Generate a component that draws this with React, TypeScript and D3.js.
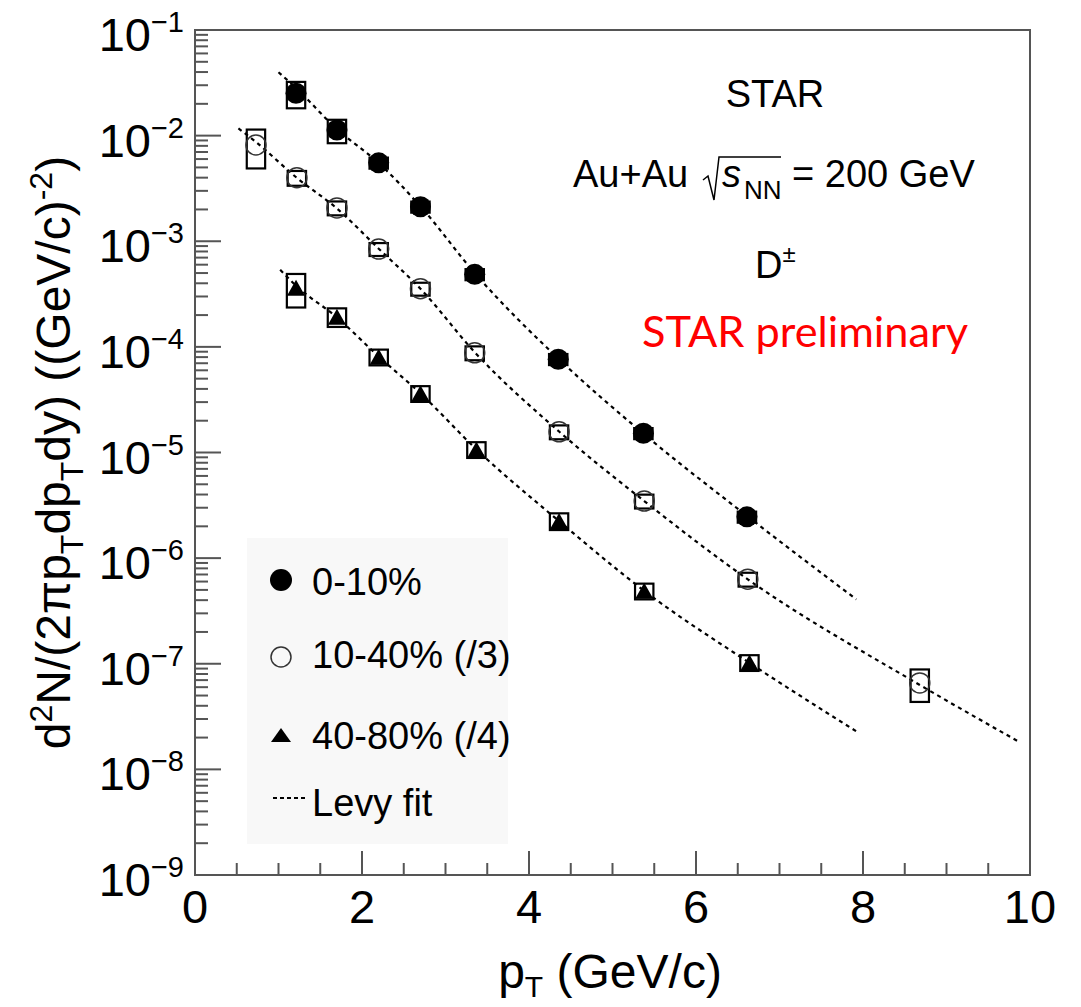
import React from 'react';
import * as d3 from 'd3';

// ---- data ----
const ptCentral = [1.21, 1.70, 2.20, 2.70, 3.35, 4.35, 5.37, 6.61];
const yieldCentral = [2.52e-2, 1.13e-2, 5.53e-3, 2.12e-3, 4.86e-4, 7.64e-5, 1.52e-5, 2.46e-6];
const sysCentral = [0.28, 0.25, 0.12, 0.12, 0.12, 0.12, 0.12, 0.12];

const ptMid = [0.73, 1.22, 1.70, 2.20, 2.70, 3.35, 4.36, 5.38, 6.62, 8.68];
const yieldMid = [8.15e-3, 3.99e-3, 2.07e-3, 8.43e-4, 3.55e-4, 8.79e-5, 1.57e-5, 3.47e-6, 6.32e-7, 6.59e-8];
const sysMid = [0.40, 0.16, 0.15, 0.14, 0.14, 0.15, 0.15, 0.15, 0.15, 0.34];

const ptPeri = [1.21, 1.70, 2.20, 2.70, 3.37, 4.36, 5.38, 6.64];
const yieldPeri = [3.63e-4, 1.93e-4, 8.05e-5, 3.63e-5, 1.07e-5, 2.25e-6, 4.90e-7, 1.03e-7];
const sysPeri = [0.35, 0.20, 0.17, 0.17, 0.17, 0.18, 0.17, 0.17];

const fitCentralX = [1.0, 1.21, 1.70, 2.20, 2.70, 3.35, 4.35, 5.37, 6.61, 7.92];
const fitCentralY = [3.98e-2, 2.82e-2, 1.15e-2, 5.5e-3, 2.14e-3, 5.0e-4, 7.76e-5, 1.51e-5, 2.51e-6, 4.07e-7];

const fitMidX = [0.52, 0.73, 1.22, 1.70, 2.20, 2.70, 3.35, 4.36, 5.38, 6.62, 8.68, 9.87];
const fitMidY = [1.17e-2, 8.7e-3, 3.98e-3, 2.04e-3, 8.5e-4, 3.55e-4, 8.9e-5, 1.58e-5, 3.47e-6, 6.3e-7, 6.3e-8, 1.82e-8];

const fitPeriX = [1.02, 1.21, 1.70, 2.20, 2.70, 3.37, 4.36, 5.38, 6.64, 7.92];
const fitPeriY = [5.37e-4, 3.8e-4, 1.9e-4, 8.1e-5, 3.63e-5, 1.07e-5, 2.24e-6, 4.9e-7, 1.02e-7, 2.29e-8];

const xMajorTicks = [0, 2, 4, 6, 8, 10];
const yDecades = [-9, -8, -7, -6, -5, -4, -3, -2, -1];

const legendLabels = ['0-10%', '10-40% (/3)', '40-80% (/4)', 'Levy fit'];

const FONT = "'Liberation Sans', Arial, Helvetica, sans-serif";

export default function App() {
  const W = 1081, H = 1007;
  const left = 195, right = 1030, top = 30, bottom = 875;
  const x = d3.scaleLinear().domain([0, 10]).range([left, right]);
  const y = d3.scaleLog().domain([1e-9, 1e-1]).range([bottom, top]);

  const boxHalfW = 0.11;
  const axisColor = '#555';

  const xMinor = d3.range(0, 10.001, 0.5).filter((v) => Math.abs(v / 2 - Math.round(v / 2)) > 1e-6);
  const yMinor: number[] = [];
  for (let e = -9; e < -1; e++) for (let k = 2; k <= 9; k++) yMinor.push(k * Math.pow(10, e));

  const line = (xs: number[], ys: number[]) =>
    d3.line<number>().x((_, i) => x(xs[i])).y((_, i) => y(ys[i])).curve(d3.curveMonotoneX)(xs) || '';

  const sysBox = (px: number, py: number, s: number, key: string) => (
    <rect key={key} x={x(px - boxHalfW)} y={y(py * (1 + s))} width={x(px + boxHalfW) - x(px - boxHalfW)}
      height={y(py * (1 - s)) - y(py * (1 + s))} fill="none" stroke="#000" strokeWidth={2.2} />
  );

  const tri = (cx: number, cy: number, b: number, h: number) =>
    `M${cx},${cy - h / 2}L${cx - b / 2},${cy + h / 2}L${cx + b / 2},${cy + h / 2}Z`;

  return (
    <svg width={W} height={H} style={{ position: 'absolute', left: 0, top: 0, background: '#fff' }} fontFamily={FONT}>
      <rect x={0} y={0} width={W} height={H} fill="#fff" />

      {/* legend background */}
      <rect x={247} y={538} width={261} height={306} fill="#f8f8f8" />

      {/* frame */}
      <rect x={left} y={top} width={right - left} height={bottom - top} fill="none" stroke={axisColor} strokeWidth={2} />

      {/* y ticks */}
      {yDecades.map((e) => (
        <line key={'ym' + e} x1={left} x2={left + 26} y1={y(Math.pow(10, e))} y2={y(Math.pow(10, e))} stroke={axisColor} strokeWidth={2} />
      ))}
      {yMinor.map((v, i) => (
        <line key={'yn' + i} x1={left} x2={left + 13} y1={y(v)} y2={y(v)} stroke={axisColor} strokeWidth={2} />
      ))}
      {/* x ticks */}
      {xMajorTicks.map((v) => (
        <line key={'xm' + v} x1={x(v)} x2={x(v)} y1={bottom} y2={bottom - 24} stroke={axisColor} strokeWidth={2} />
      ))}
      {xMinor.map((v, i) => (
        <line key={'xn' + i} x1={x(v)} x2={x(v)} y1={bottom} y2={bottom - 12} stroke={axisColor} strokeWidth={2} />
      ))}

      {/* y tick labels */}
      {yDecades.map((e) => (
        <text key={'yl' + e} x={184} y={y(Math.pow(10, e)) + 21} textAnchor="end" fontSize={47} fill="#000">
          10<tspan dy={-19} fontSize={29}>{'\u2212' + Math.abs(e)}</tspan>
        </text>
      ))}
      {/* x tick labels */}
      {xMajorTicks.map((v) => (
        <text key={'xl' + v} x={x(v)} y={bottom + 48} textAnchor="middle" fontSize={47} fill="#000">{v}</text>
      ))}

      {/* axis titles */}
      <text x={610} y={988} textAnchor="middle" fontSize={48} fill="#000">
        p<tspan dy={9} fontSize={30}>T</tspan><tspan dy={-9}> (GeV/c)</tspan>
      </text>
      <text transform={`translate(70,${(top + bottom) / 2}) rotate(-90)`} textAnchor="middle" fontSize={48} fill="#000">
        d<tspan dy={-18} fontSize={32}>2</tspan><tspan dy={18}>N/(2πp</tspan><tspan dy={13} fontSize={32}>T</tspan>
        <tspan dy={-13}>dp</tspan><tspan dy={13} fontSize={32}>T</tspan><tspan dy={-13}>dy) ((GeV/c)</tspan>
        <tspan dy={-18} fontSize={32}>-2</tspan><tspan dy={18}>)</tspan>
      </text>

      {/* fits */}
      {[[fitCentralX, fitCentralY], [fitMidX, fitMidY], [fitPeriX, fitPeriY]].map(([xs, ys], i) => (
        <path key={'fit' + i} d={line(xs, ys)} fill="none" stroke="#000" strokeWidth={2.2} strokeDasharray="4,4" />
      ))}

      {/* systematic boxes */}
      {ptCentral.map((p, i) => sysBox(p, yieldCentral[i], sysCentral[i], 'sc' + i))}
      {ptMid.map((p, i) => sysBox(p, yieldMid[i], sysMid[i], 'sm' + i))}
      {ptPeri.map((p, i) => sysBox(p, yieldPeri[i], sysPeri[i], 'sp' + i))}

      {/* markers */}
      {ptCentral.map((p, i) => (
        <circle key={'c' + i} cx={x(p)} cy={y(yieldCentral[i])} r={10.5} fill="#000" />
      ))}
      {ptMid.map((p, i) => (
        <circle key={'m' + i} cx={x(p)} cy={y(yieldMid[i])} r={10} fill="none" stroke="#333" strokeWidth={1.5} />
      ))}
      {ptPeri.map((p, i) => (
        <path key={'p' + i} d={tri(x(p), y(yieldPeri[i]), 18, 16)} fill="#000" />
      ))}

      {/* annotations */}
      <text x={775} y={107} textAnchor="middle" fontSize={38} fill="#000">STAR</text>
      <text x={573} y={187} fontSize={38} fill="#000">Au+Au</text>
      <path d="M703,180 L708,176 L714,200 L719,157 L781,157" fill="none" stroke="#000" strokeWidth={1.5} />
      <text x={722} y={187} fontSize={38} fontStyle="italic" fill="#000">s</text>
      <text x={744} y={199} fontSize={26} fill="#000">NN</text>
      <text x={792} y={187} fontSize={38} fill="#000">= 200 GeV</text>
      <text x={755} y={278} fontSize={38} fill="#000">D<tspan dy={-16} fontSize={24}>±</tspan></text>
      <text x={642} y={347} fontSize={42} fill="#ff0000" fontFamily="Lato, 'Open Sans', sans-serif" textLength={326} lengthAdjust="spacingAndGlyphs">STAR preliminary</text>

      {/* legend */}
      <circle cx={281} cy={580} r={11} fill="#000" />
      <circle cx={281} cy={657} r={10} fill="none" stroke="#333" strokeWidth={1.5} />
      <path d={tri(281, 735, 20, 14)} fill="#000" />
      <line x1={273} x2={305} y1={798} y2={798} stroke="#000" strokeWidth={2} strokeDasharray="4,3" />
      {legendLabels.map((t, i) => (
        <text key={'lg' + i} x={312} y={[595, 668, 749, 816][i]} fontSize={38} fill="#000">{t}</text>
      ))}
    </svg>
  );
}
